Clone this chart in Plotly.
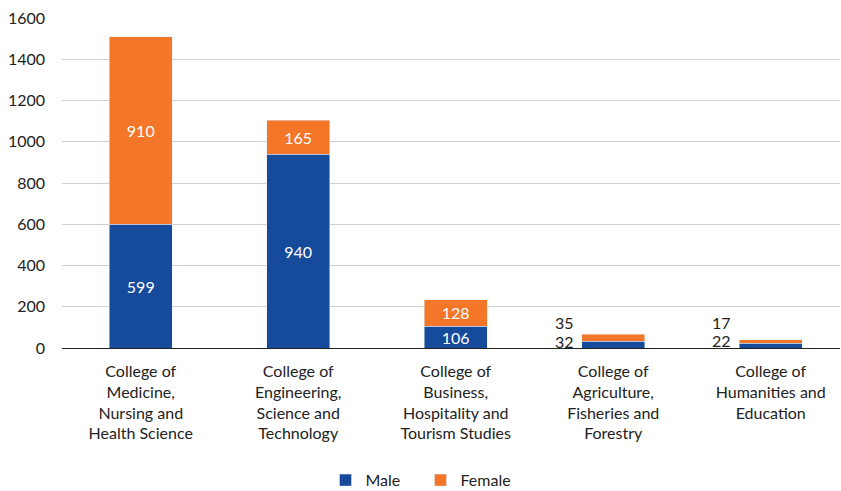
import plotly.graph_objects as go

categories = [
    "College of<br>Medicine,<br>Nursing and<br>Health Science",
    "College of<br>Engineering,<br>Science and<br>Technology",
    "College of<br>Business,<br>Hospitality and<br>Tourism Studies",
    "College of<br>Agriculture,<br>Fisheries and<br>Forestry",
    "College of<br>Humanities and<br>Education",
]
male = [599, 940, 106, 32, 22]
female = [910, 165, 128, 35, 17]
y_ticks = [0, 200, 400, 600, 800, 1000, 1200, 1400, 1600]

MALE_C = "#164A9B"
FEMALE_C = "#F47628"
FONT = "Lato"

x = list(range(len(categories)))
inside_pos = ["inside" if (m >= 80 and f >= 80) else "none" for m, f in zip(male, female)]

fig = go.Figure()
fig.add_trace(go.Bar(
    x=x, y=male, name="Male", marker_color=MALE_C, width=0.4,
    text=[str(v) for v in male], textposition=inside_pos,
    insidetextanchor="middle", textangle=0, constraintext="none",
    textfont=dict(color="white", size=16, family=FONT),
))
fig.add_trace(go.Bar(
    x=x, y=female, name="Female", marker_color=FEMALE_C, width=0.4,
    text=[str(v) for v in female], textposition=inside_pos,
    insidetextanchor="middle", textangle=0, constraintext="none",
    textfont=dict(color="white", size=16, family=FONT),
))

# outside labels for small bars (placed to the left)
shifts = {3: (3, 15), 4: (5, 19)}
for i, (ms, fs) in shifts.items():
    fig.add_annotation(x=i - 0.2, y=male[i] / 2, text=str(male[i]), showarrow=False,
                       xanchor="right", yanchor="middle", xshift=-6, yshift=ms,
                       font=dict(size=16, color="#222", family=FONT))
    fig.add_annotation(x=i - 0.2, y=male[i] + female[i] / 2, text=str(female[i]), showarrow=False,
                       xanchor="right", yanchor="middle", xshift=-6, yshift=fs,
                       font=dict(size=16, color="#222", family=FONT))

fig.update_layout(
    barmode="stack",
    width=841, height=491, autosize=False,
    margin=dict(l=62, r=1, t=18, b=143),
    paper_bgcolor="white", plot_bgcolor="white",
    font=dict(family=FONT, size=16, color="#222"),
    showlegend=True,
    legend=dict(orientation="h", x=0.5, xref="container", xanchor="center",
                y=0.022, yref="container", yanchor="middle",
                entrywidth=50,
                font=dict(size=16, family=FONT), traceorder="normal", itemwidth=30),
    xaxis=dict(
        tickmode="array", tickvals=x, ticktext=categories,
        range=[-0.5, 4.44], showgrid=False, ticks="", showline=False,
        tickfont=dict(size=16, family=FONT, color="#222"),
        automargin=False, ticklabelstandoff=12,
    ),
    yaxis=dict(
        range=[0, 1600], tickvals=y_ticks, showgrid=True, gridcolor="#D0D0D0",
        gridwidth=1, zeroline=True, zerolinecolor="#222", zerolinewidth=1,
        ticks="", tickfont=dict(size=16, family=FONT, color="#222"),
        ticklabelstandoff=16, automargin=False,
    ),
)

fig.write_html(
    "out.html",
    config={"responsive": False, "displayModeBar": False},
    post_script="document.body.style.margin='0';document.body.style.overflow='hidden';",
)
